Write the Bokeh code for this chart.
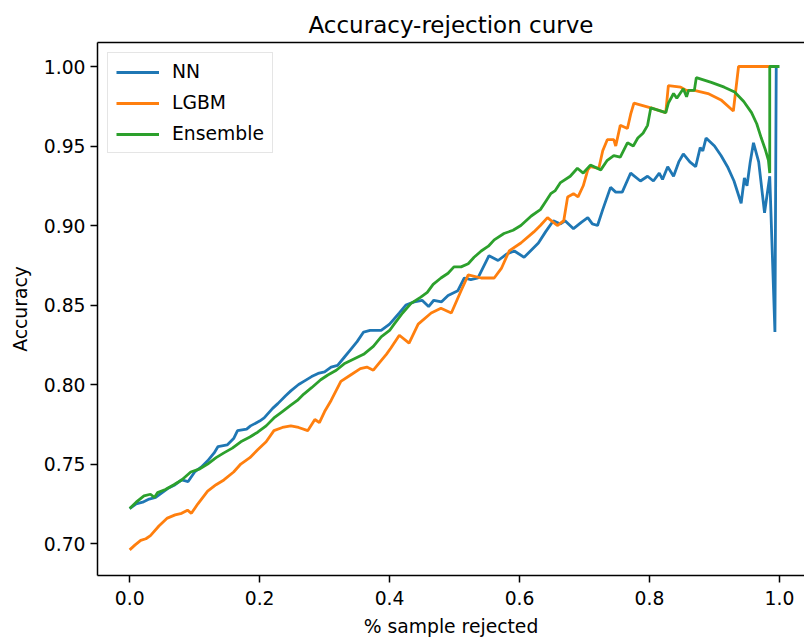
from bokeh.plotting import figure
from bokeh.models import (Range1d, FixedTicker, PrintfTickFormatter, LinearAxis,
                          Legend, LegendItem, PolyAnnotation)
from bokeh.embed import file_html
from bokeh.resources import INLINE

# ---------------- data ----------------
nn_x = [0.000, 0.010, 0.020, 0.030, 0.040, 0.050, 0.060, 0.070, 0.080, 0.090,
        0.100, 0.110, 0.120, 0.130, 0.136, 0.150, 0.160, 0.166, 0.180, 0.186,
        0.200, 0.207, 0.220, 0.228, 0.240, 0.248, 0.260, 0.268, 0.280, 0.290,
        0.300, 0.310, 0.320, 0.330, 0.340, 0.350, 0.360, 0.370, 0.387, 0.400,
        0.415, 0.425, 0.438, 0.450, 0.460, 0.468, 0.480, 0.490, 0.505, 0.515,
        0.525, 0.536, 0.553, 0.567, 0.580, 0.592, 0.607, 0.629, 0.640, 0.652,
        0.663, 0.670, 0.683, 0.695, 0.705, 0.712, 0.720, 0.728, 0.740, 0.748,
        0.758, 0.771, 0.786, 0.797, 0.806, 0.815, 0.820, 0.828, 0.837, 0.845,
        0.852, 0.862, 0.871, 0.878, 0.882, 0.887, 0.900, 0.910, 0.920, 0.930,
        0.941, 0.946, 0.950, 0.955, 0.960, 0.968, 0.977, 0.985, 0.993, 0.995]
nn_y = [0.722, 0.725, 0.726, 0.728, 0.729, 0.732, 0.735, 0.737, 0.740, 0.739,
        0.745, 0.748, 0.752, 0.757, 0.761, 0.762, 0.766, 0.771, 0.772, 0.774,
        0.777, 0.779, 0.785, 0.788, 0.793, 0.796, 0.800, 0.802, 0.805, 0.807,
        0.808, 0.811, 0.812, 0.817, 0.822, 0.827, 0.833, 0.834, 0.834, 0.838,
        0.845, 0.850, 0.852, 0.853, 0.849, 0.853, 0.852, 0.856, 0.859, 0.867,
        0.866, 0.867, 0.881, 0.878, 0.882, 0.884, 0.880, 0.889, 0.896, 0.903,
        0.901, 0.903, 0.898, 0.902, 0.905, 0.901, 0.900, 0.910, 0.924, 0.921,
        0.921, 0.933, 0.928, 0.931, 0.928, 0.933, 0.929, 0.937, 0.931, 0.940,
        0.945, 0.940, 0.937, 0.949, 0.947, 0.955, 0.950, 0.944, 0.937, 0.928,
        0.914, 0.930, 0.925, 0.940, 0.952, 0.940, 0.908, 0.931, 0.833, 1.000]

lgbm_x = [0.000, 0.008, 0.017, 0.025, 0.032, 0.045, 0.058, 0.070, 0.080, 0.089,
          0.095, 0.105, 0.120, 0.133, 0.145, 0.160, 0.171, 0.185, 0.197, 0.210,
          0.222, 0.235, 0.248, 0.260, 0.274, 0.285, 0.292, 0.300, 0.310, 0.325,
          0.340, 0.355, 0.365, 0.375, 0.387, 0.395, 0.402, 0.415, 0.430, 0.444,
          0.464, 0.479, 0.495, 0.510, 0.521, 0.541, 0.561, 0.572, 0.584, 0.602,
          0.622, 0.632, 0.643, 0.658, 0.668, 0.674, 0.683, 0.690, 0.698, 0.705,
          0.709, 0.722, 0.728, 0.735, 0.745, 0.748, 0.755, 0.766, 0.771, 0.776,
          0.802, 0.825, 0.829, 0.848, 0.857, 0.869, 0.890, 0.910, 0.929, 0.937,
          0.995]
lgbm_y = [0.696, 0.699, 0.702, 0.703, 0.705, 0.711, 0.716, 0.718, 0.719, 0.721,
          0.719, 0.725, 0.733, 0.737, 0.740, 0.745, 0.750, 0.754, 0.759, 0.764,
          0.771, 0.773, 0.774, 0.773, 0.771, 0.778, 0.776, 0.783, 0.790, 0.802,
          0.806, 0.810, 0.811, 0.809, 0.815, 0.819, 0.823, 0.831, 0.826, 0.838,
          0.845, 0.848, 0.845, 0.859, 0.869, 0.867, 0.867, 0.873, 0.884, 0.889,
          0.896, 0.900, 0.905, 0.900, 0.903, 0.918, 0.920, 0.918, 0.925, 0.935,
          0.937, 0.936, 0.947, 0.954, 0.954, 0.950, 0.963, 0.961, 0.970, 0.977,
          0.974, 0.971, 0.988, 0.987, 0.985, 0.985, 0.983, 0.979, 0.972, 1.000,
          1.000]

ens_x = [0.000, 0.010, 0.022, 0.032, 0.038, 0.043, 0.055, 0.068, 0.080, 0.094,
         0.108, 0.120, 0.133, 0.145, 0.158, 0.171, 0.185, 0.197, 0.210, 0.222,
         0.235, 0.248, 0.258, 0.268, 0.280, 0.294, 0.305, 0.318, 0.330, 0.345,
         0.360, 0.375, 0.387, 0.400, 0.407, 0.420, 0.433, 0.448, 0.458, 0.467,
         0.479, 0.490, 0.499, 0.510, 0.521, 0.530, 0.541, 0.552, 0.561, 0.576,
         0.590, 0.602, 0.618, 0.632, 0.640, 0.648, 0.655, 0.663, 0.678, 0.689,
         0.698, 0.709, 0.725, 0.735, 0.745, 0.755, 0.766, 0.775, 0.782, 0.790,
         0.797, 0.802, 0.825, 0.829, 0.837, 0.842, 0.852, 0.857, 0.860, 0.869,
         0.872, 0.895, 0.915, 0.931, 0.945, 0.957, 0.965, 0.972, 0.978, 0.983,
         0.985, 0.985, 1.000]
ens_y = [0.722, 0.726, 0.730, 0.731, 0.729, 0.732, 0.734, 0.737, 0.740, 0.745,
         0.747, 0.750, 0.754, 0.757, 0.760, 0.764, 0.767, 0.770, 0.774, 0.779,
         0.783, 0.787, 0.790, 0.794, 0.798, 0.803, 0.806, 0.809, 0.813, 0.816,
         0.819, 0.824, 0.830, 0.834, 0.838, 0.845, 0.851, 0.855, 0.858, 0.863,
         0.867, 0.870, 0.874, 0.874, 0.876, 0.880, 0.884, 0.887, 0.891, 0.895,
         0.897, 0.900, 0.906, 0.910, 0.915, 0.920, 0.922, 0.927, 0.931, 0.936,
         0.933, 0.938, 0.935, 0.941, 0.944, 0.943, 0.952, 0.950, 0.955, 0.958,
         0.963, 0.974, 0.971, 0.977, 0.983, 0.980, 0.986, 0.981, 0.985, 0.985,
         0.993, 0.990, 0.987, 0.984, 0.978, 0.971, 0.964, 0.955, 0.948, 0.941,
         0.933, 1.000, 1.000]

series_names = ["NN", "LGBM", "Ensemble"]
series_colors = ["#1f77b4", "#ff7f0e", "#2ca02c"]

x_ticks = [0.0, 0.2, 0.4, 0.6, 0.8, 1.0]
y_ticks = [0.70, 0.75, 0.80, 0.85, 0.90, 0.95, 1.00]

FONT = "DejaVu Sans"

p = figure(width=804, height=639, output_backend="svg", toolbar_location=None,
           x_range=Range1d(-0.0495, 1.0385), y_range=Range1d(0.6799, 1.0151),
           min_border_left=97, min_border_right=0, min_border_top=42,
           min_border_bottom=64, x_axis_label="% sample rejected",
           y_axis_label="Accuracy", title="Accuracy-rejection curve")
p.outline_line_color = None
p.xgrid.visible = False
p.ygrid.visible = False
p.background_fill_color = "white"
p.border_fill_color = "white"

p.title.text_font = FONT
p.title.text_font_size = "23px"
p.title.text_font_style = "normal"
p.title.align = "center"
p.title.text_color = "black"

for ax in (p.xaxis[0], p.yaxis[0]):
    ax.axis_line_width = 1.5
    ax.axis_line_color = "black"
    ax.major_tick_line_width = 1.5
    ax.major_tick_out = 7
    ax.major_tick_in = 0
    ax.minor_tick_line_color = None
    ax.major_label_text_font = FONT
    ax.major_label_text_font_size = "18.75px"
    ax.major_label_text_color = "black"
    ax.axis_label_text_font = FONT
    ax.axis_label_text_font_size = "18.75px"
    ax.axis_label_text_font_style = "normal"
    ax.axis_label_text_color = "black"

p.xaxis[0].ticker = FixedTicker(ticks=x_ticks)
p.xaxis[0].formatter = PrintfTickFormatter(format="%.1f")
p.yaxis[0].ticker = FixedTicker(ticks=y_ticks)
p.yaxis[0].formatter = PrintfTickFormatter(format="%.2f")
p.xaxis[0].major_label_standoff = 8
p.yaxis[0].major_label_standoff = 5
p.xaxis[0].axis_label_standoff = 8
p.yaxis[0].axis_label_standoff = 10

# top spine only (the right one falls outside the picture)
top = LinearAxis(axis_line_width=1.5, axis_line_color="black",
                 major_tick_line_color=None, minor_tick_line_color=None,
                 major_label_text_color=None, major_label_text_font_size="1px",
                 ticker=FixedTicker(ticks=[]))
p.add_layout(top, "above")

renderers = []
for xs, ys, c in zip([nn_x, lgbm_x, ens_x], [nn_y, lgbm_y, ens_y], series_colors):
    r = p.line(xs, ys, line_color=c, line_width=2.8)
    renderers.append(r)

legend = Legend(items=[LegendItem(label=n, renderers=[r]) for n, r in zip(series_names, renderers)],
                location="top_left", margin=10, padding=8, spacing=10,
                glyph_width=43, glyph_height=20, label_height=20,
                label_standoff=13, label_text_font=FONT,
                label_text_font_size="18.75px", label_text_color="black",
                border_line_color="#cccccc", border_line_width=1.2,
                background_fill_alpha=0.8)
p.add_layout(legend, "center")

# watermark shapes at the top right of the page (frame-relative screen units)
wm_color = "#f6c2ab"
p.add_layout(PolyAnnotation(xs=[530, 571, 590, 548], ys=[575, 575, 564, 564],
                            xs_units="screen", ys_units="screen",
                            fill_color=wm_color, fill_alpha=1, line_color=None))
p.add_layout(PolyAnnotation(xs=[643, 673, 665, 633], ys=[575, 575, 564, 564],
                            xs_units="screen", ys_units="screen",
                            fill_color=wm_color, fill_alpha=1, line_color=None))

open("out.html", "w").write(file_html(p, INLINE))
